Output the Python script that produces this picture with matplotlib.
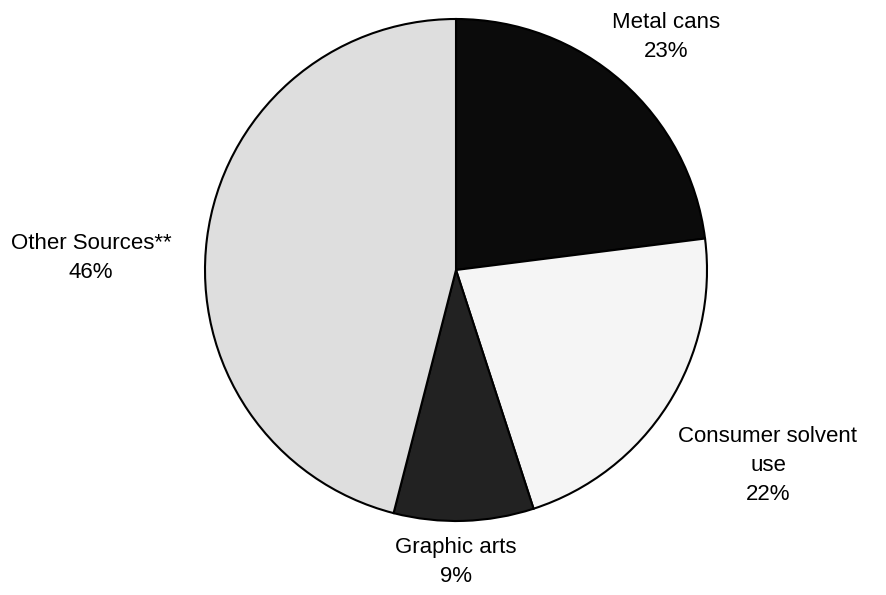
import matplotlib
matplotlib.use("Agg")
import matplotlib.pyplot as plt

labels = ["Metal cans", "Consumer solvent\nuse", "Graphic arts", "Other Sources**"]
shares = [23, 22, 9, 46]
colors = ["#0b0b0b", "#f5f5f5", "#222222", "#dedede"]

plt.rcParams["font.family"] = ["Liberation Sans", "DejaVu Sans"]

fig = plt.figure(figsize=(8.86, 5.95), dpi=100)
ax = fig.add_axes([0, 0, 1, 1])
wedges, _ = ax.pie(shares, colors=colors, startangle=90, counterclock=False,
                   radius=1.0,
                   wedgeprops=dict(edgecolor="black", linewidth=1.5))

# label positions (pie radius = 1)
label_xy = [(0.837, 0.928), (1.243, -0.777), (0.0, -1.163), (-1.454, 0.048)]
for lab, val, (x, y) in zip(labels, shares, label_xy):
    ax.text(x, y, f"{lab}\n{val}%", ha="center", va="center",
            fontsize=16, linespacing=1.5)

ax.set_xlim(-456 / 251, (886 - 456) / 251)
ax.set_ylim(-(595 - 270) / 251, 270 / 251)
ax.set_aspect("equal")
ax.axis("off")

fig.savefig("out.png", dpi=100)
